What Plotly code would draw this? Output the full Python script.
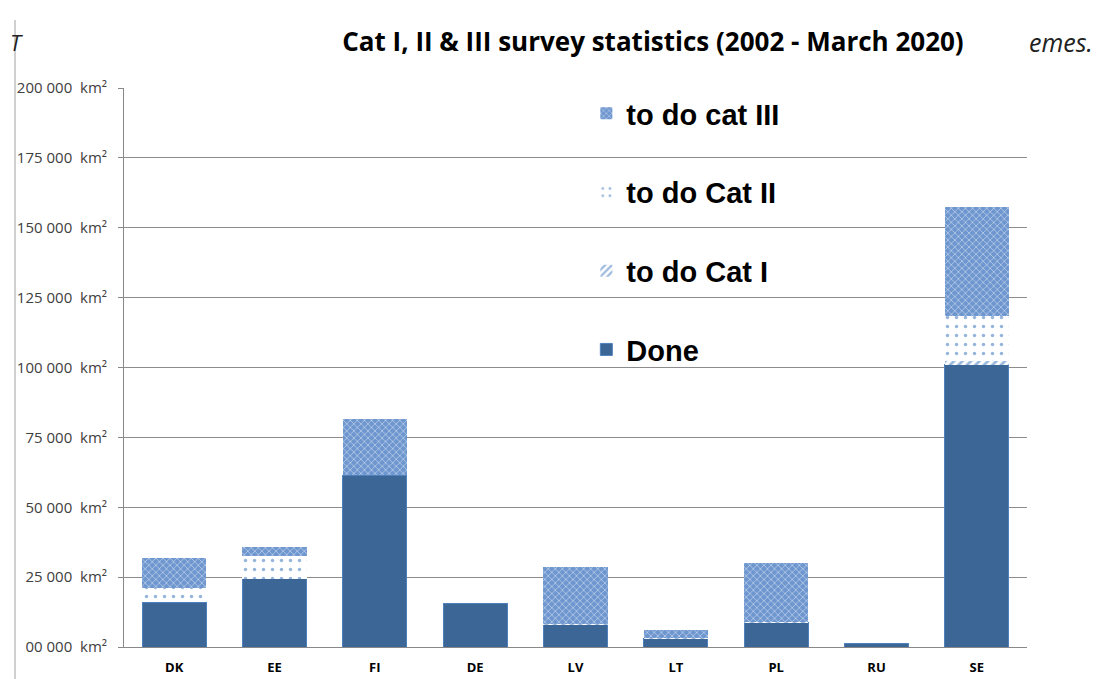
import plotly.graph_objects as go

categories = ["DK", "EE", "FI", "DE", "LV", "LT", "PL", "RU", "SE"]
done = [16000, 24500, 61500, 15500, 7900, 3200, 8600, 1400, 101000]
todo_cat1 = [0, 0, 0, 0, 300, 200, 300, 0, 1300]
todo_cat2 = [5000, 8000, 0, 0, 0, 0, 0, 0, 16000]
todo_cat3 = [11000, 3300, 20000, 0, 20500, 2800, 21000, 0, 39000]

tick_vals = [0, 25000, 50000, 75000, 100000, 125000, 150000, 175000, 200000]
tick_text = ["00 000", "25 000", "50 000", "75 000", "100 000", "125 000",
             "150 000", "175 000", "200 000"]

fig = go.Figure()
fig.add_trace(go.Bar(
    x=categories, y=done, name="Done", legendgroup="d", legendrank=4,
    marker=dict(color="#3C6696", line=dict(color="#4F81BD", width=1)),
))
fig.add_trace(go.Bar(
    x=categories, y=todo_cat1, name="to do Cat I", legendgroup="c1", legendrank=3,
    marker=dict(color="white", line=dict(color="#4A7EBB", width=0),
                pattern=dict(shape="/", fgcolor="#2F6DB8", bgcolor="white",
                             size=6, solidity=0.45)),
))
fig.add_trace(go.Bar(
    x=categories, y=todo_cat2, name="to do Cat II", legendgroup="c2", legendrank=2,
    marker=dict(color="white", line=dict(color="#4A7EBB", width=0),
                pattern=dict(shape=".", fgcolor="#3069B8", bgcolor="white",
                             size=9, solidity=0.12)),
))
fig.add_trace(go.Bar(
    x=categories, y=todo_cat3, name="to do cat III", legendgroup="c3", legendrank=1,
    marker=dict(color="#6E96CF", line=dict(color="#4A7EBB", width=0),
                pattern=dict(shape="x", fgcolor="#FFFFFF", bgcolor="#6E96CF",
                             size=5, solidity=0.3)),
))

fig.update_layout(
    barmode="stack",
    bargap=0.36,
    width=1091, height=671,
    margin=dict(l=116, r=72, t=80, b=32),
    paper_bgcolor="white", plot_bgcolor="white",
    showlegend=True,
    title=dict(text="<b>Cat I, II & III survey statistics (2002 - March 2020)</b>",
               x=0.5912, xanchor="center", y=0.9493, yanchor="middle",
               font=dict(family="Open Sans", size=26, color="#000000")),
    legend=dict(x=0.512, xanchor="left", y=1.0, yanchor="top",
                traceorder="grouped", tracegroupgap=38,
                bgcolor="rgba(0,0,0,0)",
                font=dict(family="Liberation Sans", size=29, color="#000000",
                          weight="bold"),
                itemclick=False),
    xaxis=dict(showgrid=False, showline=True, linecolor="#888888", linewidth=1,
               ticks="", ticklabelstandoff=8, automargin=False,
               tickfont=dict(family="Open Sans", size=13, color="#000000",
                             weight="bold")),
    yaxis=dict(range=[0, 200000], tickvals=tick_vals,
               ticktext=[t + "\u00a0\u00a0km²" for t in tick_text],
               showgrid=True, gridcolor="#8C8C8C", gridwidth=1,
               showline=True, linecolor="#888888", linewidth=1,
               ticks="outside", ticklen=5, tickcolor="#888888",
               ticklabelstandoff=8, zeroline=False, automargin=False,
               tickfont=dict(family="Open Sans", size=15, color="#404040")),
    shapes=[dict(type="line", xref="paper", yref="paper",
                 x0=-0.1207, x1=-0.1207, y0=-0.06, y1=1.1217,
                 line=dict(color="#A0A0A0", width=1))],
    annotations=[
        dict(text="<i>T</i>", xref="paper", yref="paper", x=-0.1285, y=1.0823,
             xanchor="left", yanchor="middle", showarrow=False,
             font=dict(family="Open Sans", size=22, color="#222222")),
        dict(text="<i>emes.</i>", xref="paper", yref="paper", x=1.0, y=1.0823,
             xanchor="left", yanchor="middle", showarrow=False,
             font=dict(family="Open Sans", size=25, color="#222222")),
    ],
)

fig.write_html("out.html")
